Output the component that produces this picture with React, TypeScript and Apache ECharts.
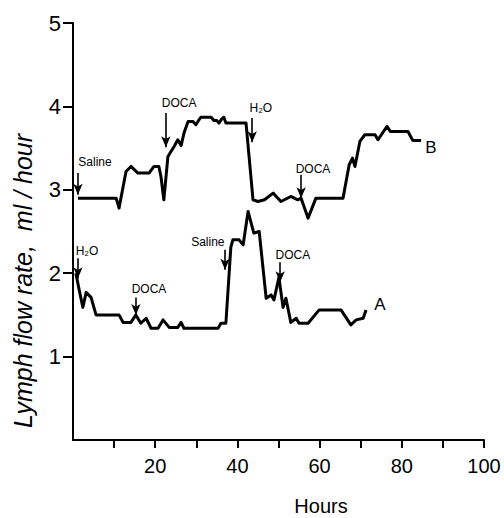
import React, { useEffect, useRef } from "react";
import * as echarts from "echarts";

// Hours vs lymph flow rate (ml/hour)
const seriesB: [number, number][] = [
  [1.2, 2.9], [10.5, 2.9], [11.2, 2.78], [12.9, 3.22], [14.1, 3.28], [15.8, 3.2],
  [18.5, 3.2], [19.7, 3.28], [20.9, 3.28], [21.4, 3.16], [22.1, 2.88], [23.1, 3.4],
  [24.6, 3.52], [25.5, 3.6], [26.3, 3.53], [27.0, 3.68], [28.0, 3.82], [29.2, 3.82],
  [29.9, 3.78], [30.4, 3.82], [31.1, 3.87], [33.6, 3.87], [34.3, 3.83], [35.0, 3.83],
  [35.5, 3.8], [36.2, 3.85], [36.7, 3.87], [37.2, 3.8], [42.1, 3.8], [43.8, 2.88],
  [45.0, 2.86], [46.6, 2.88], [48.7, 2.96], [50.6, 2.86], [53.0, 2.92], [54.7, 2.88],
  [55.5, 2.9], [57.2, 2.66], [59.1, 2.9], [65.7, 2.9], [67.2, 3.3], [68.0, 3.38],
  [68.6, 3.28], [69.8, 3.58], [71.0, 3.66], [73.5, 3.66], [74.2, 3.6], [76.4, 3.76],
  [77.2, 3.7], [81.5, 3.7], [82.7, 3.59], [84.7, 3.59],
];

const seriesA: [number, number][] = [
  [0.7, 2.0], [1.5, 1.8], [2.4, 1.59], [3.2, 1.77], [4.4, 1.71], [5.6, 1.5],
  [11.2, 1.5], [12.2, 1.41], [14.1, 1.41], [15.3, 1.5], [16.5, 1.4], [17.8, 1.46],
  [19.0, 1.34], [20.7, 1.34], [21.9, 1.44], [23.4, 1.35], [25.5, 1.35], [26.3, 1.41],
  [27.0, 1.34], [35.3, 1.34], [36.0, 1.4], [37.2, 1.4], [38.4, 2.31], [38.9, 2.4],
  [40.4, 2.4], [41.4, 2.34], [42.6, 2.74], [44.0, 2.48], [45.3, 2.5], [47.0, 1.7],
  [48.2, 1.74], [48.9, 1.68], [50.1, 1.95], [51.1, 1.59], [51.8, 1.7], [53.0, 1.41],
  [54.3, 1.46], [55.0, 1.4], [57.2, 1.4], [59.9, 1.56], [65.2, 1.56], [67.6, 1.38],
  [68.9, 1.44], [70.6, 1.46], [71.3, 1.56],
];

// Treatment arrows: hour, start value, tip value
const arrowsB = [
  { x: 1.2, from: 3.2, to: 2.94 },
  { x: 22.6, from: 3.92, to: 3.51 },
  { x: 43.6, from: 3.86, to: 3.57 },
  { x: 55.5, from: 3.18, to: 2.9 },
];
const arrowsA = [
  { x: 1.2, from: 2.18, to: 1.94 },
  { x: 15.3, from: 1.71, to: 1.5 },
  { x: 37.0, from: 2.28, to: 2.04 },
  { x: 50.4, from: 2.13, to: 1.89 },
];

// Treatment labels
const notesB = [
  { name: "Saline", x: 5.35, y: 3.33 },
  { name: "DOCA", x: 25.8, y: 4.04 },
  { name: "H₂O", x: 45.7, y: 3.98 },
  { name: "DOCA", x: 58.4, y: 3.25 },
];
const notesA = [
  { name: "H₂O", x: 3.4, y: 2.27 },
  { name: "DOCA", x: 18.5, y: 1.81 },
  { name: "Saline", x: 32.8, y: 2.37 },
  { name: "DOCA", x: 53.5, y: 2.22 },
];

const seriesNames = [
  { name: "A", x: 74.7, y: 1.62 },
  { name: "B", x: 87.1, y: 3.51 },
];

const xTickValues = [10, 20, 30, 40, 50, 60, 70, 80, 90, 100];
const xLabelValues = [20, 40, 60, 80, 100];
const yTickValues = [1, 2, 3, 4, 5];
const yLabelValues = [1, 2, 3, 4, 5];

const FONT = "'Liberation Sans', Arial, Helvetica, sans-serif";

function buildSeries(name: string, data: [number, number][], arrows: any[], notes: any[], tag: any) {
  return {
    name,
    type: "line",
    data,
    showSymbol: false,
    symbol: "none",
    silent: true,
    lineStyle: { color: "#000", width: 3, join: "round" },
    markLine: {
      silent: true,
      animation: false,
      symbol: ["none", "arrow"],
      symbolSize: [7, 11],
      lineStyle: { color: "#000", width: 1.6, type: "solid" },
      label: { show: false },
      emphasis: { disabled: true },
      data: arrows.map((a) => [{ coord: [a.x, a.from] }, { coord: [a.x, a.to] }]),
    },
    markPoint: {
      silent: true,
      animation: false,
      symbol: "circle",
      symbolSize: 1,
      itemStyle: { color: "rgba(0,0,0,0)" },
      label: {
        show: true,
        position: "inside",
        color: "#000",
        fontSize: 12,
        fontFamily: FONT,
        formatter: "{b}",
      },
      data: [
        ...notes.map((n) => ({ name: n.name, coord: [n.x, n.y] })),
        { name: tag.name, coord: [tag.x, tag.y], label: { fontSize: 17 } },
      ],
    },
  };
}

export default function App() {
  const ref = useRef<HTMLDivElement>(null);
  useEffect(() => {
    if (!ref.current) return;
    const chart = echarts.init(ref.current, null, { renderer: "svg" });
    const axisLine = { show: true, lineStyle: { color: "#000", width: 2 } };
    chart.setOption({
      animation: false,
      backgroundColor: "#fff",
      grid: { left: 73, right: 20, top: 23, bottom: 78 },
      xAxis: {
        type: "value",
        min: 0,
        max: 100,
        interval: 10,
        axisLine,
        axisTick: { show: true, length: 8, customValues: xTickValues, lineStyle: { color: "#000", width: 2 } },
        axisLabel: {
          margin: 16,
          color: "#000",
          fontSize: 20,
          fontFamily: FONT,
          customValues: xLabelValues,
        },
        splitLine: { show: false },
      },
      yAxis: {
        type: "value",
        min: 0,
        max: 5,
        interval: 1,
        axisLine,
        axisTick: { show: true, length: 10, customValues: yTickValues, lineStyle: { color: "#000", width: 2 } },
        axisLabel: {
          margin: 12,
          color: "#000",
          fontSize: 22,
          fontFamily: FONT,
          customValues: yLabelValues,
        },
        splitLine: { show: false },
      },
      graphic: [
        {
          type: "text",
          x: 23,
          y: 281,
          rotation: Math.PI / 2,
          silent: true,
          style: {
            text: "Lymph flow rate,  ml / hour",
            fill: "#000",
            font: `italic 25px ${FONT}`,
            textAlign: "center",
            textVerticalAlign: "middle",
            align: "center",
            verticalAlign: "middle",
          },
        },
        {
          type: "text",
          x: 321,
          y: 506,
          silent: true,
          style: {
            text: "Hours",
            fill: "#000",
            font: `20px ${FONT}`,
            textAlign: "center",
            textVerticalAlign: "middle",
            align: "center",
            verticalAlign: "middle",
          },
        },
      ],
      series: [
        buildSeries("B", seriesB, arrowsB, notesB, seriesNames[1]),
        buildSeries("A", seriesA, arrowsA, notesA, seriesNames[0]),
      ],
    });
    return () => chart.dispose();
  }, []);
  return (
    <div
      ref={ref}
      style={{ position: "fixed", left: 0, top: 0, width: 504, height: 518, background: "#fff" }}
    />
  );
}
